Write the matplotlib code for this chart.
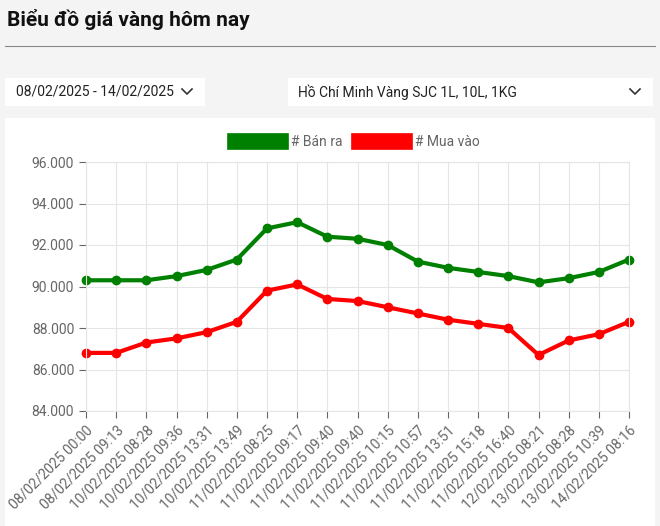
import matplotlib.pyplot as plt
from matplotlib.patches import Rectangle

plt.rcParams['font.family'] = ['Roboto', 'DejaVu Sans']

labels = ["08/02/2025 00:00", "08/02/2025 09:13", "10/02/2025 08:28", "10/02/2025 09:36",
          "10/02/2025 13:31", "10/02/2025 13:49", "11/02/2025 08:25", "11/02/2025 09:17",
          "11/02/2025 09:40", "11/02/2025 09:40", "11/02/2025 10:15", "11/02/2025 10:57",
          "11/02/2025 13:51", "11/02/2025 15:18", "11/02/2025 16:40", "12/02/2025 08:21",
          "13/02/2025 08:28", "13/02/2025 10:39", "14/02/2025 08:16"]
ban_ra = [90.3, 90.3, 90.3, 90.5, 90.8, 91.3, 92.8, 93.1, 92.4, 92.3, 92.0, 91.2,
          90.9, 90.7, 90.5, 90.2, 90.4, 90.7, 91.3]
mua_vao = [86.8, 86.8, 87.3, 87.5, 87.8, 88.3, 89.8, 90.1, 89.4, 89.3, 89.0, 88.7,
           88.4, 88.2, 88.0, 86.7, 87.4, 87.7, 88.3]

W, H = 660, 526
fig = plt.figure(figsize=(6.6, 5.26), dpi=100)
fig.patch.set_facecolor('#f4f4f4')

def box(x, y, w, h, fc):
    fig.add_artist(Rectangle((x / W, 1 - (y + h) / H), w / W, h / H,
                             transform=fig.transFigure, fc=fc, ec='none', zorder=-10))

fig.text(7 / W, 1 - 20 / H, "Biểu đồ giá vàng hôm nay", fontsize=15, fontweight='bold',
         va='center', color='#111111')
fig.add_artist(plt.Line2D([5 / W, 655 / W], [1 - 46 / H] * 2, color='#888888', lw=0.8))
box(5, 78, 200, 28, 'white')
box(288, 78, 365, 28, 'white')
fig.text(16 / W, 1 - 92 / H, "08/02/2025 - 14/02/2025", fontsize=10, va='center', color='#222222')
fig.text(298 / W, 1 - 92 / H, "Hồ Chí Minh Vàng SJC 1L, 10L, 1KG", fontsize=10, va='center', color='#222222')
for cx in (187, 635):
    fig.add_artist(plt.Line2D([(cx - 5) / W, cx / W, (cx + 5) / W],
                              [1 - 89 / H, 1 - 94 / H, 1 - 89 / H], color='#333333', lw=1.2))
box(5, 118, 650, 420, 'white')

ax = fig.add_axes([86 / W, 1 - 411 / H, 543 / W, 249 / H])
ax.set_facecolor('none')
x = range(len(labels))
ax.plot(x, ban_ra, color='#008000', lw=3, marker='o', ms=6, label='# Bán ra', clip_on=False)
ax.plot(x, mua_vao, color='#ff0000', lw=3, marker='o', ms=6, label='# Mua vào', clip_on=False)
ax.set_ylim(84, 96)
ax.set_xlim(0, len(labels) - 1)
ax.set_yticks(range(84, 97, 2))
ax.set_yticklabels([f"{v}.000" for v in range(84, 97, 2)])
ax.set_xticks(list(x))
ax.set_xticklabels(labels, rotation=45, ha='right', rotation_mode='anchor')
ax.tick_params(colors='#666666', labelsize=10, length=5)
ax.grid(color='#e5e5e5', lw=0.8)
for s in ax.spines.values():
    s.set_color('#e5e5e5')
ax.legend(loc='lower center', bbox_to_anchor=(0.5, 1.0), ncol=2, frameon=False,
          handlelength=3.2, handleheight=1.2, fontsize=10, labelcolor='#666666',
          columnspacing=1.2)
for h in ax.get_legend().legend_handles:
    h.set_marker('')
    h.set_linewidth(12)

fig.savefig('out.png', dpi=100, facecolor=fig.get_facecolor())
